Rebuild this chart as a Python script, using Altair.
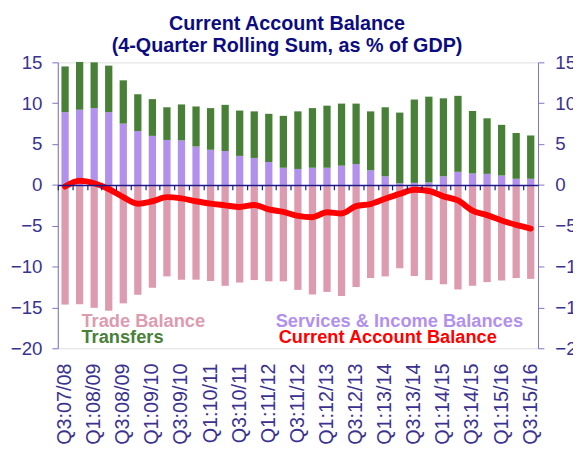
import altair as alt
import pandas as pd

quarters = ["Q3:07/08", "Q4:07/08",
            "Q1:08/09", "Q2:08/09", "Q3:08/09", "Q4:08/09",
            "Q1:09/10", "Q2:09/10", "Q3:09/10", "Q4:09/10",
            "Q1:10/11", "Q2:10/11", "Q3:10/11", "Q4:10/11",
            "Q1:11/12", "Q2:11/12", "Q3:11/12", "Q4:11/12",
            "Q1:12/13", "Q2:12/13", "Q3:12/13", "Q4:12/13",
            "Q1:13/14", "Q2:13/14", "Q3:13/14", "Q4:13/14",
            "Q1:14/15", "Q2:14/15", "Q3:14/15", "Q4:14/15",
            "Q1:15/16", "Q2:15/16", "Q3:15/16"]

trade = [-14.65, -14.6, -15.05, -15.4, -14.5, -13.45, -12.6, -11.2, -11.6, -11.6,
         -11.75, -12.35, -11.95, -11.65, -11.8, -11.8, -12.85, -13.4, -13.1, -13.6,
         -12.5, -11.4, -11.2, -10.2, -11.15, -11.65, -12.15, -12.8, -12.35, -11.9,
         -11.7, -11.4, -11.5]
services = [8.9, 9.2, 9.4, 8.9, 7.5, 6.6, 6.0, 5.5, 5.45, 4.7,
            4.3, 4.15, 3.55, 3.3, 2.8, 2.1, 1.95, 2.1, 2.1, 2.35,
            2.55, 1.8, 1.05, 0.2, 0.25, 0.3, 1.05, 1.6, 1.4, 1.35,
            1.15, 0.75, 0.75]
transfers = [5.6, 5.85, 5.6, 5.7, 5.3, 4.5, 4.5, 4.0, 4.4, 4.9,
             5.1, 5.65, 5.55, 5.7, 5.9, 6.35, 7.05, 7.3, 7.6, 7.6,
             7.4, 7.2, 8.45, 8.65, 10.2, 10.5, 9.55, 9.3, 7.65, 6.8,
             6.2, 5.6, 5.3]
current = [-0.2, 0.5, 0.2, -0.5, -1.5, -2.3, -2.0, -1.5, -1.65, -2.0,
           -2.3, -2.5, -2.7, -2.45, -3.0, -3.3, -3.8, -3.95, -3.35, -3.5,
           -2.6, -2.35, -1.7, -1.1, -0.6, -0.75, -1.4, -1.9, -3.15, -3.7,
           -4.35, -4.9, -5.35]

series_names = ["Trade Balance", "Services & Income Balances", "Transfers"]
series_colors = ["#dd9bb0", "#b291ec", "#488038"]
line_name = "Current Account Balance"
line_color = "#ff0000"
tick_labels = quarters[::2]
y_ticks = [-20, -15, -10, -5, 0, 5, 10, 15]

FONT = "Liberation Sans"
LABEL_COLOR = "#3b3290"
AXIS_COLOR = "#7d74bd"
NAVY = "#1c1a86"

rows = []
for i, q in enumerate(quarters):
    for k, (name, vals) in enumerate(zip(series_names, [trade, services, transfers])):
        rows.append({"quarter": q, "series": name, "value": vals[i], "ord": k})
bars_df = pd.DataFrame(rows)
line_df = pd.DataFrame({"quarter": quarters, "current": current})

W, H = 487, 290
yscale = alt.Scale(domain=[-20, 15], nice=False, zero=False)
xscale = alt.Scale(paddingInner=0.5, paddingOuter=0.25)

bars = alt.Chart(bars_df).mark_bar().encode(
    x=alt.X("quarter:N", sort=quarters, scale=xscale,
            axis=alt.Axis(values=tick_labels, labelAngle=-90, ticks=False, tickSize=0,
                          domain=False, labelPadding=15, labelFontSize=20,
                          labelFont=FONT, labelColor=LABEL_COLOR, title=None,
                          orient="bottom", labelOverlap=False)),
    y=alt.Y("value:Q", stack="zero", scale=yscale,
            axis=alt.Axis(values=y_ticks, orient="left", title=None, grid=False,
                          labelFontSize=19, labelFont=FONT, labelColor=LABEL_COLOR,
                          domainColor=AXIS_COLOR, tickColor=AXIS_COLOR, tickSize=6,
                          labelPadding=10, labelFlush=False, labelOverlap=False)),
    color=alt.Color("series:N", scale=alt.Scale(domain=series_names, range=series_colors),
                    legend=None),
    order=alt.Order("ord:Q"),
)

line = alt.Chart(line_df).mark_line(
    color=line_color, strokeWidth=6, interpolate="monotone",
    strokeCap="round", strokeJoin="round"
).encode(
    x=alt.X("quarter:N", sort=quarters, scale=xscale,
            axis=alt.Axis(orient="bottom", offset=-(H * 20 / 35), labels=False,
                          domain=True, domainColor=NAVY, domainWidth=1.5,
                          ticks=True, tickColor=NAVY, tickSize=5, tickWidth=1.2,
                          bandPosition=0, tickOffset=-3.69, title=None, zindex=1)),
    y=alt.Y("current:Q", scale=yscale,
            axis=alt.Axis(values=y_ticks, orient="right", title=None, grid=False,
                          labelFontSize=19, labelFont=FONT, labelColor=LABEL_COLOR,
                          domainColor=AXIS_COLOR, tickColor=AXIS_COLOR, tickSize=6,
                          labelPadding=11, labelFlush=False, labelOverlap=False)),
)

legend_items = [
    (series_names[0], series_colors[0], 24, 268),
    (series_names[2], series_colors[2], 24, 284.5),
    (series_names[1], series_colors[1], 221, 268.5),
    (line_name, line_color, 224, 285),
]
legend_layers = []
for name, col, lx, ly in legend_items:
    legend_layers.append(
        alt.Chart(pd.DataFrame({"label": [name]})).mark_text(
            align="left", baseline="alphabetic", fontSize=18.5, fontWeight="bold",
            font=FONT, color=col
        ).encode(text="label:N", x=alt.value(lx), y=alt.value(ly))
    )

chart = alt.layer(bars, line, *legend_layers).resolve_axis(
    x="independent", y="independent"
).properties(
    width=W, height=H,
    title=alt.TitleParams(
        text=["Current Account Balance", "(4-Quarter Rolling Sum, as % of GDP)"],
        font=FONT, fontSize=20, fontWeight="bold", color="#0c0c80",
        anchor="middle", frame="group", dx=-11, dy=6, lineHeight=22, offset=4
    ),
    autosize=alt.AutoSizeParams(type="none"),
    padding={"left": 50.5, "top": 52, "right": 35.5, "bottom": 99},
).configure_view(stroke=None).configure(background="white")

chart.save("out.html", embed_options={"renderer": "svg", "actions": False})
